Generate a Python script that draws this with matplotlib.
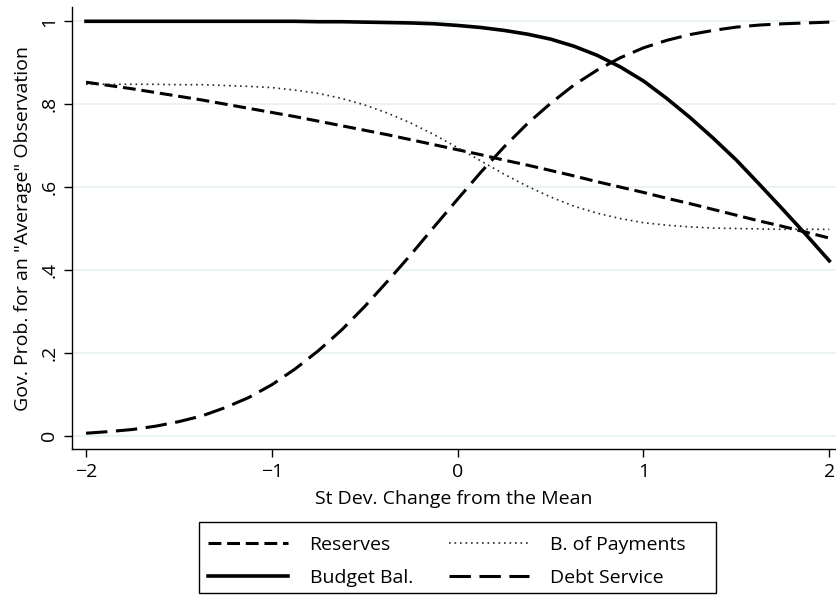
import matplotlib
matplotlib.use("Agg")
import matplotlib.pyplot as plt
from matplotlib.patches import Rectangle

plt.rcParams['font.family'] = ['Open Sans', 'DejaVu Sans']
plt.rcParams['axes.unicode_minus'] = True

# Standard-deviation change from the mean (steps of 1/8)
sd_change = [-2.0, -1.875, -1.75, -1.625, -1.5, -1.375, -1.25, -1.125,
             -1.0, -0.875, -0.75, -0.625, -0.5, -0.375, -0.25, -0.125,
             0.0, 0.125, 0.25, 0.375, 0.5, 0.625, 0.75, 0.875,
             1.0, 1.125, 1.25, 1.375, 1.5, 1.625, 1.75, 1.875, 2.0]

# Predicted probabilities for an "average" observation
reserves = [0.853, 0.845, 0.837, 0.828, 0.819, 0.810, 0.800, 0.790,
            0.780, 0.770, 0.759, 0.748, 0.737, 0.726, 0.714, 0.702,
            0.690, 0.678, 0.665, 0.653, 0.640, 0.627, 0.613, 0.600,
            0.587, 0.573, 0.560, 0.546, 0.532, 0.518, 0.505, 0.491, 0.477]
bop = [0.848, 0.848, 0.848, 0.848, 0.847, 0.847, 0.845, 0.843,
       0.840, 0.834, 0.826, 0.814, 0.798, 0.778, 0.754, 0.726,
       0.695, 0.663, 0.631, 0.602, 0.576, 0.554, 0.537, 0.524,
       0.514, 0.508, 0.504, 0.501, 0.500, 0.499, 0.498, 0.498, 0.498]
budget = [1.000, 1.000, 1.000, 1.000, 1.000, 1.000, 1.000, 1.000,
          1.000, 1.000, 0.999, 0.999, 0.998, 0.997, 0.996, 0.994,
          0.990, 0.985, 0.978, 0.969, 0.957, 0.940, 0.918, 0.890,
          0.856, 0.814, 0.768, 0.718, 0.665, 0.606, 0.546, 0.485, 0.422]
debt = [0.006, 0.010, 0.015, 0.023, 0.034, 0.048, 0.068, 0.092,
        0.123, 0.161, 0.205, 0.255, 0.312, 0.374, 0.438, 0.505,
        0.571, 0.636, 0.697, 0.753, 0.802, 0.846, 0.882, 0.912,
        0.936, 0.954, 0.968, 0.978, 0.986, 0.991, 0.994, 0.996, 0.998]

xticks = [-2, -1, 0, 1, 2]
xticklabels = ['\u22122', '\u22121', '0', '1', '2']
yticks = [0, 0.2, 0.4, 0.6, 0.8, 1.0]
yticklabels = ['0', '.2', '.4', '.6', '.8', '1']

W, H = 836, 595
fig = plt.figure(figsize=(W / 100, H / 100), dpi=100)
ax = fig.add_axes([72.3 / W, 1 - 449.3 / H, (W - 72.3) / W, (449.3 - 7) / H])

dash_res = (0, (4.2, 1.9))
dash_debt = (0, (7.0, 2.8))
dot_bop = (0, (1.0, 2.3))

ax.plot(sd_change, reserves, color='black', lw=2.2, linestyle=dash_res, label='Reserves')
ax.plot(sd_change, budget, color='black', lw=2.6, linestyle='-', label='Budget Bal.')
ax.plot(sd_change, bop, color='#262626', lw=1.2, linestyle=dot_bop, label='B. of Payments')
ax.plot(sd_change, debt, color='black', lw=2.2, linestyle=dash_debt, label='Debt Service')

ax.set_xlim(-2.074, 2.036)
ax.set_ylim(-0.0328, 1.0345)
ax.set_xticks(xticks)
ax.set_xticklabels(xticklabels)
ax.set_yticks(yticks)
ax.set_yticklabels(yticklabels, rotation=90, va='center')
ax.grid(axis='y', color='#e8f0f2', lw=1.2)
ax.set_axisbelow(True)
for side in ('top', 'right'):
    ax.spines[side].set_visible(False)
for side in ('left', 'bottom'):
    ax.spines[side].set_linewidth(1.0)
ax.tick_params(direction='out', length=6, width=1.0, labelsize=14, pad=4)

ax.set_xlabel('St Dev. Change from the Mean', fontsize=14, labelpad=6)
ax.set_ylabel('Gov. Prob. for an "Average" Observation', fontsize=14, labelpad=6)

# Legend entries without their own frame; the box is drawn separately
handles, labels = ax.get_legend_handles_labels()
fig.legend(handles, labels, ncol=2, loc='upper left',
           bbox_to_anchor=(208 / W, 1 - 536 / H), borderaxespad=0, borderpad=0,
           frameon=False, fontsize=14, handlelength=4.12, handletextpad=1.1,
           labelspacing=0.76, columnspacing=1.85)
fig.add_artist(Rectangle((199 / W, 2 / H), 517 / W, 71 / H, transform=fig.transFigure,
                         fill=False, edgecolor='black', lw=1.0))

fig.savefig('out.png', dpi=100)
